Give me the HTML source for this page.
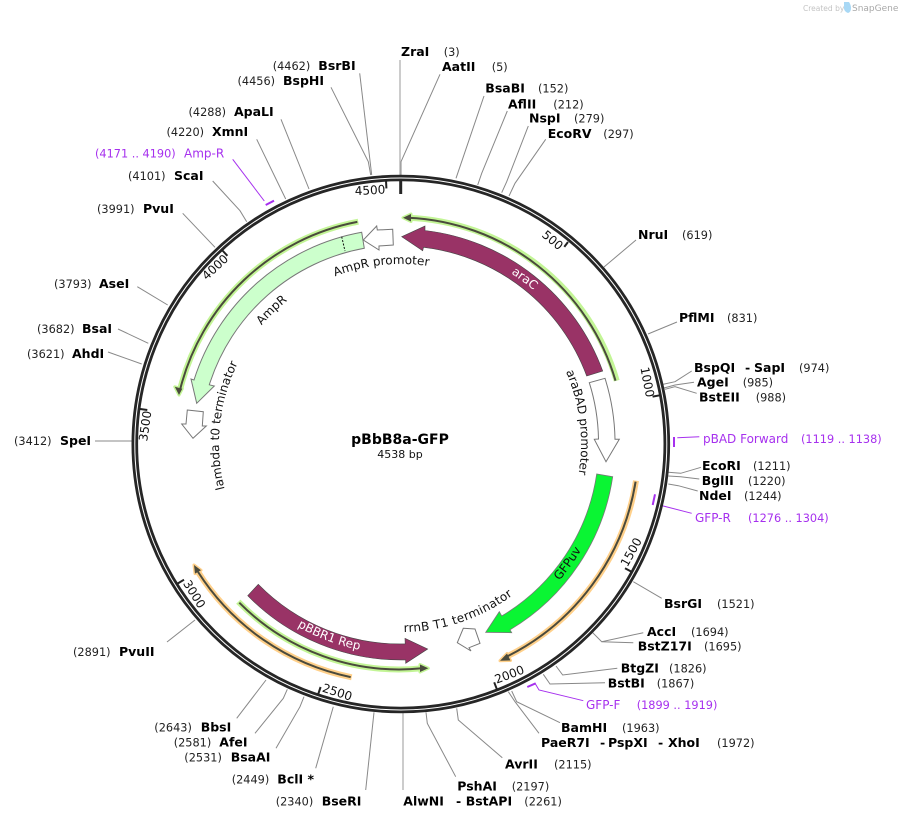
<!DOCTYPE html>
<html><head><meta charset="utf-8"><style>
html,body{margin:0;padding:0;background:#fff}
svg{display:block}
text{font-family:"DejaVu Sans","Liberation Sans",sans-serif;fill:#111;font-size:12px}
.n{font-weight:bold;font-size:12.5px;fill:#000}
.c{font-size:11.3px;fill:#222}
.p{font-size:12px;fill:#a630ee}
.q{font-size:11.3px;fill:#a630ee}
.l{fill:none;stroke:#888;stroke-width:1}
.v{fill:none;stroke:#bbb;stroke-width:1.5}
.m{fill:none;stroke:#a630ee;stroke-width:1}
.t{fill:none;stroke:#a630ee;stroke-width:2}
.k{stroke:#222;stroke-width:2}
.h{fill:#fff;stroke:#777;stroke-width:1}
.f{font-size:12px}
</style></head><body>
<svg width="901" height="820" viewBox="0 0 901 820" xmlns="http://www.w3.org/2000/svg">
<defs>
<path id="pA" d="M425,242.4 A203,203 0 0 1 587.6,364"/>
<path id="pB" d="M270.9,319.6 A180,180 0 0 1 500.9,294.2"/>
<path id="pC" d="M225.1,393.5 A183,183 0 0 1 356.7,266.5"/>
<path id="pD" d="M250.1,545.7 A182,182 0 0 1 274.5,313.1"/>
<path id="pE" d="M523.8,312.4 A180,180 0 0 1 552,542"/>
<path id="pF" d="M487.3,634.4 A209,209 0 0 0 609,464.5"/>
<path id="pG" d="M228,562.9 A210,210 0 0 0 453.5,647.3"/>
<path id="pH" d="M348.2,624.5 A188,188 0 0 0 552.5,555.3"/>
</defs>

<!-- watermark -->
<text x="803" y="11" style="font-size:7.5px;fill:#c4c4c4">Created by</text>
<path d="M844,2 h5 q2,3 2,6 q0,4 -3,5 q-3,-1 -4,-4 z" fill="#a8d8f5"/>
<text x="852" y="11" style="font-size:9px;fill:#a8a8a8">SnapGene</text>

<!-- connectors -->
<path class="v" d="M400,60 V176"/>
<path class="l" d="M440,74.3 L401,161.7 V176"/>
<path class="l" d="M484,96 L456,178.3"/>
<path class="l" d="M507.3,111 L481.7,173.3 L477.7,185"/>
<path class="l" d="M528.3,126 L506.7,181.7 L501.7,192.7"/>
<path class="l" d="M545.7,139.3 L515,183.3 L509,196"/>
<path class="l" d="M636,240 L604,267"/>
<path class="l" d="M677,322 L648,334"/>
<path class="l" d="M691.7,371 L675,381.7 L663.3,384.3"/>
<path class="l" d="M694,382.3 L675,385 L664,388"/>
<path class="l" d="M696.7,393.3 L675,386.7 L665,389.3"/>
<path class="l" d="M701,467.3 L680.7,473.3 L668.3,472.3"/>
<path class="l" d="M699.3,479 L680.7,476.7 L668.3,476"/>
<path class="l" d="M697.7,491 L678.3,485.7 L668.3,484"/>
<path class="l" d="M661.7,598.3 L633.3,581.7"/>
<path class="l" d="M643.3,632.7 L601.7,641.7 L592.7,632.7"/>
<path class="l" d="M633.3,642.7 L601.7,641.7"/>
<path class="l" d="M617.3,668.3 L562.7,675 L556,666"/>
<path class="l" d="M605,682.7 L550,684 L543.3,674.3"/>
<path class="l" d="M560,722.7 L516.7,701.7 L511.7,691"/>
<path class="l" d="M539,733.3 L515,701.7 L508.3,691.7"/>
<path class="l" d="M502.3,757.7 L458.3,720 L456.7,708.3"/>
<path class="l" d="M455.7,776.7 L427.3,723.3 L426,712.3"/>
<path class="v" d="M403,790 V713"/>
<path class="l" d="M365.7,790 L374,712.3"/>
<path class="l" d="M315.7,768.3 L333.3,706.7"/>
<path class="l" d="M276,748.3 L300,706.7 L304,696.7"/>
<path class="l" d="M255,733.3 L283.3,698.3 L287.3,689.3"/>
<path class="l" d="M236.7,718.3 L266,680"/>
<path class="l" d="M167,642 L195,620"/>
<path class="l" d="M95,441 H132"/>
<path class="l" d="M108,352 L141.7,364"/>
<path class="l" d="M118,329 L148.3,343.3"/>
<path class="l" d="M137.3,286.7 L167.7,305"/>
<path class="l" d="M182.7,213.3 L215,247.3"/>
<path class="l" d="M212.7,181 L240,210.7 L246.7,221.7"/>
<path class="l" d="M256.7,139.3 L285.7,199"/>
<path class="l" d="M281,119.3 L309,189"/>
<path class="l" d="M331,87.3 L368.3,161.7 L370.7,175"/>
<path class="l" d="M359.7,73.3 L371.7,175"/>

<!-- primer markers -->
<path class="m" d="M699.3,436.7 L677.3,437.7"/><path class="t" d="M674,437 V447"/>
<path class="m" d="M691.7,513.3 L663.3,506 L657.3,505"/><path class="t" d="M655,494.3 L652.7,505"/>
<path class="m" d="M583.3,700.7 L539,690 L535,683.3"/><path class="t" d="M527.3,687 L535.7,683.3"/>
<path class="m" d="M232.7,159.3 L264.3,201"/><path class="t" d="M265.7,205 L274,200.7"/>

<!-- backbone -->
<circle cx="400.8" cy="444" r="266" fill="none" stroke="#262626" stroke-width="6.6"/>
<circle cx="400.8" cy="444" r="266" fill="none" stroke="#fff" stroke-width="1"/>

<!-- ticks -->
<path stroke="#262626" stroke-width="3" d="M400.7,180 V194"/>
<path class="k" d="M564.3,246.9 L568,242"/>
<path class="k" d="M652.6,396.6 L660.5,395.2"/>
<path class="k" d="M625,568.2 L632,572"/>
<path class="k" d="M494.2,682.3 L497.1,689.8"/>
<path class="k" d="M320.6,687 L318.1,694.5"/>
<path class="k" d="M184,579.7 L177.1,583.9"/>
<path class="k" d="M147.3,410 L139.4,408.9"/>
<path class="k" d="M227.4,255.8 L222,250"/>
<path class="k" d="M386.4,188.4 L386,180.4"/>
<text text-anchor="middle" dy=".36em" transform="translate(370,190) rotate(-3)">4500</text>
<text text-anchor="middle" dy=".36em" transform="translate(552.7,240) rotate(40)">500</text>
<text text-anchor="middle" dy=".36em" transform="translate(647.5,382) rotate(79)">1000</text>
<text text-anchor="middle" dy=".36em" transform="translate(631,552) rotate(-61)">1500</text>
<text text-anchor="middle" dy=".36em" transform="translate(509.3,674.3) rotate(-21)">2000</text>
<text text-anchor="middle" dy=".36em" transform="translate(337.3,692) rotate(18)">2500</text>
<text text-anchor="middle" dy=".36em" transform="translate(194.5,594) rotate(58)">3000</text>
<text text-anchor="middle" dy=".36em" transform="translate(145,426) rotate(-82)">3500</text>
<text text-anchor="middle" dy=".36em" transform="translate(215,267) rotate(-43)">4000</text>

<!-- primers -->
<g fill="none" stroke-linecap="butt">
<g stroke="#c3f596" stroke-width="6">
<path d="M616.7,380.7 A226.5,226.5 0 0 0 408,217.7"/>
<path d="M358.3,221.7 A226.5,226.5 0 0 0 180,390"/>
<path d="M238.3,601.7 A225.5,225.5 0 0 0 422,668.3"/>
</g>
<g stroke="#ffd08a" stroke-width="6">
<path d="M636,480.7 A238,238 0 0 1 506,657"/>
<path d="M351.7,677.3 A238,238 0 0 1 198,571.9"/>
</g>
</g>
<g stroke-linejoin="round" stroke-width="3">
<polygon points="403,217.7 411,214 411,221.5" fill="#c3f596" stroke="#c3f596"/>
<polygon points="179,395 174.8,386.8 182.3,388.7" fill="#c3f596" stroke="#c3f596"/>
<polygon points="428.3,668.3 420,664.5 420,672" fill="#c3f596" stroke="#c3f596"/>
<polygon points="500,660.7 507,653.5 510.5,660.5" fill="#ffd08a" stroke="#ffd08a"/>
<polygon points="194,565 201,570.2 195,573.6" fill="#ffd08a" stroke="#ffd08a"/>
</g>
<g fill="none" stroke="#4a4a3c" stroke-width="2">
<path d="M615.5,380.7 A226.5,226.5 0 0 0 408,217.7"/>
<path d="M357.3,221.9 A226.5,226.5 0 0 0 180,390"/>
<path d="M239.3,602.7 A225.5,225.5 0 0 0 422,668.3"/>
<path d="M635.6,481.7 A238,238 0 0 1 506,657"/>
<path d="M350.7,677.1 A238,238 0 0 1 198,571.9"/>
</g>
<g fill="#4a4a3c">
<polygon points="403,217.7 411,214 411,221.5"/>
<polygon points="179,395 174.8,386.8 182.3,388.7"/>
<polygon points="428.3,668.3 420,664.5 420,672"/>
<polygon points="500,660.7 507,653.5 510.5,660.5"/>
<polygon points="194,565 201,570.2 195,573.6"/>
</g>

<!-- features -->
<path d="M586.7,376 A199,199 0 0 0 423.5,247.3 L422.7,250.7 L401.7,236.7 L425,226 L425,230.5 A216,216 0 0 1 602.7,371 Z" fill="#993366" stroke="#444" stroke-width=".6"/>
<path d="M361.7,232.3 A216,216 0 0 0 194,380 L191,379 L196.7,403.3 L214.3,386 L209.3,384.8 A200,200 0 0 1 364.3,248.3 Z" fill="#ccffcc" stroke="#777" stroke-width="1"/>
<path d="M341.7,236.7 L345,251" stroke="#111" stroke-width="1" stroke-dasharray="2 1.5" fill="none"/>
<path d="M596.7,474 A199,199 0 0 1 501.7,616 L499.3,611.7 L485.7,632.3 L511.7,632.7 L510,629.8 A215,215 0 0 0 612.7,476.7 Z" fill="#0af533" stroke="#777" stroke-width=".8"/>
<path d="M258.3,584.3 A199,199 0 0 0 405.2,643.9 L405,638.3 L427.7,649 L405.7,663.3 L405.6,659.9 A215,215 0 0 1 247.7,595.7 Z" fill="#993366" stroke="#444" stroke-width=".6"/>
<path class="h" d="M589.3,382.7 L605,378.3 A216,216 0 0 1 615,439.3 L619.3,439.3 L606,461.7 L594.3,439.3 L598.5,439 A200,200 0 0 0 589.3,382.7 Z"/>
<polygon class="h" points="392.7,229.3 377.3,230 376.7,226 363.3,240 379,250 379,246 393.3,245"/>
<polygon class="h" points="187.3,410 203.3,411.7 202.3,426 206.3,426 193,438.3 181.7,424 186,424"/>
<polygon class="h" points="463.3,628.3 475,629 480,643.3 469,647.7 471,651 457.3,642.7"/>

<!-- feature labels -->
<text class="f" style="fill:#fff"><textPath href="#pA" startOffset="50%" text-anchor="middle">araC</textPath></text>
<text class="f"><textPath href="#pB" startOffset="50%" text-anchor="middle">AmpR promoter</textPath></text>
<text class="f"><textPath href="#pC" startOffset="50%" text-anchor="middle">AmpR</textPath></text>
<text class="f"><textPath href="#pD" startOffset="50%" text-anchor="middle">lambda t0 terminator</textPath></text>
<text class="f"><textPath href="#pE" startOffset="50%" text-anchor="middle">araBAD promoter</textPath></text>
<text class="f"><textPath href="#pF" startOffset="50%" text-anchor="middle">GFPuv</textPath></text>
<text class="f" style="fill:#fff"><textPath href="#pG" startOffset="50%" text-anchor="middle">pBBR1 Rep</textPath></text>
<text class="f" style="letter-spacing:.3px"><textPath href="#pH" startOffset="50%" text-anchor="middle">rrnB T1 terminator</textPath></text>

<!-- title -->
<text x="400" y="444" text-anchor="middle" style="font-size:14px;font-weight:bold;fill:#000">pBbB8a-GFP</text>
<text x="400" y="458" text-anchor="middle" style="font-size:11px">4538 bp</text>

<!-- site labels -->
<text class="n" x="401" y="56">ZraI</text><text class="c" x="443.7" y="56">(3)</text>
<text class="n" x="442" y="71">AatII</text><text class="c" x="491.7" y="71">(5)</text>
<text class="n" x="485.3" y="92.7">BsaBI</text><text class="c" x="538" y="92.7">(152)</text>
<text class="n" x="508" y="108.3">AflII</text><text class="c" x="553.3" y="108.3">(212)</text>
<text class="n" x="529" y="122.7">NspI</text><text class="c" x="574" y="122.7">(279)</text>
<text class="n" x="547.7" y="138">EcoRV</text><text class="c" x="603.3" y="138">(297)</text>
<text class="n" x="638" y="239">NruI</text><text class="c" x="682" y="239">(619)</text>
<text class="n" x="679" y="322">PflMI</text><text class="c" x="727" y="322">(831)</text>
<text class="n" x="694" y="372">BspQI</text><text class="n" x="745" y="372">-</text><text class="n" x="754" y="372">SapI</text><text class="c" x="799" y="372">(974)</text>
<text class="n" x="697" y="386.7">AgeI</text><text class="c" x="742.7" y="386.7">(985)</text>
<text class="n" x="699" y="401.7">BstEII</text><text class="c" x="755.7" y="401.7">(988)</text>
<text class="p" x="703" y="443">pBAD Forward</text><text class="q" x="801" y="443">(1119 .. 1138)</text>
<text class="n" x="702" y="470">EcoRI</text><text class="c" x="753" y="470">(1211)</text>
<text class="n" x="701.7" y="485">BglII</text><text class="c" x="748" y="485">(1220)</text>
<text class="n" x="699" y="500">NdeI</text><text class="c" x="744" y="500">(1244)</text>
<text class="p" x="695" y="522">GFP-R</text><text class="q" x="748" y="522">(1276 .. 1304)</text>
<text class="n" x="664" y="608">BsrGI</text><text class="c" x="717" y="608">(1521)</text>
<text class="n" x="647" y="636">AccI</text><text class="c" x="691" y="636">(1694)</text>
<text class="n" x="637.7" y="650.7">BstZ17I</text><text class="c" x="704" y="650.7">(1695)</text>
<text class="n" x="620.7" y="672.7">BtgZI</text><text class="c" x="669" y="672.7">(1826)</text>
<text class="n" x="607.7" y="687.7">BstBI</text><text class="c" x="656.7" y="687.7">(1867)</text>
<text class="p" x="586" y="709">GFP-F</text><text class="q" x="636.7" y="709">(1899 .. 1919)</text>
<text class="n" x="561" y="732">BamHI</text><text class="c" x="622" y="732">(1963)</text>
<text class="n" x="541" y="747">PaeR7I</text><text class="n" x="600" y="747">-</text><text class="n" x="608" y="747">PspXI</text><text class="n" x="658" y="747">-</text><text class="n" x="668" y="747">XhoI</text><text class="c" x="717" y="747">(1972)</text>
<text class="n" x="505" y="768.3">AvrII</text><text class="c" x="554" y="768.3">(2115)</text>
<text class="n" x="457.3" y="790.7">PshAI</text><text class="c" x="511.7" y="790.7">(2197)</text>
<text class="n" x="403.3" y="805.7">AlwNI</text><text class="n" x="456" y="805.7">-</text><text class="n" x="465.7" y="805.7">BstAPI</text><text class="c" x="524.3" y="805.7">(2261)</text>
<text class="c" x="275.7" y="805.7">(2340)</text><text class="n" x="321.7" y="805.7">BseRI</text>
<text class="c" x="231.7" y="783.3">(2449)</text><text class="n" x="277.3" y="783.3">BclI *</text>
<text class="c" x="184.3" y="761.7">(2531)</text><text class="n" x="230.7" y="761.7">BsaAI</text>
<text class="c" x="173.7" y="746.7">(2581)</text><text class="n" x="219.3" y="746.7">AfeI</text>
<text class="c" x="154.3" y="731.7">(2643)</text><text class="n" x="200.7" y="731.7">BbsI</text>
<text class="c" x="73" y="656">(2891)</text><text class="n" x="119" y="656">PvuII</text>
<text class="c" x="14" y="445">(3412)</text><text class="n" x="60" y="445">SpeI</text>
<text class="c" x="27" y="358">(3621)</text><text class="n" x="72" y="358">AhdI</text>
<text class="c" x="37" y="333">(3682)</text><text class="n" x="82" y="333">BsaI</text>
<text class="c" x="54" y="288">(3793)</text><text class="n" x="99" y="288">AseI</text>
<text class="c" x="97" y="213">(3991)</text><text class="n" x="143" y="213">PvuI</text>
<text class="c" x="128" y="180">(4101)</text><text class="n" x="174" y="180">ScaI</text>
<text class="q" x="95" y="157.7">(4171 .. 4190)</text><text class="p" x="184" y="157.7">Amp-R</text>
<text class="c" x="166.5" y="136">(4220)</text><text class="n" x="212" y="136">XmnI</text>
<text class="c" x="188.5" y="116">(4288)</text><text class="n" x="234" y="116">ApaLI</text>
<text class="c" x="237.5" y="85">(4456)</text><text class="n" x="283" y="85">BspHI</text>
<text class="c" x="272.7" y="70">(4462)</text><text class="n" x="318.3" y="70">BsrBI</text>
</svg>
</body></html>
